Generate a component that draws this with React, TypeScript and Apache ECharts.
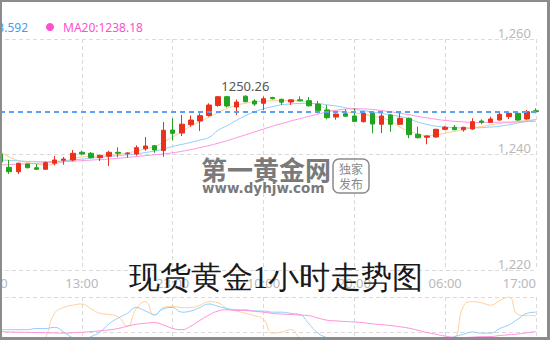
import React, { useEffect, useRef } from 'react';
import * as echarts from 'echarts';

// hourly categories (day prefix keeps them unique; label shows the time only)
const times = [
  '1|03:00','1|04:00','1|05:00','1|06:00','1|07:00','1|08:00','1|09:00','1|10:00','1|11:00','1|12:00',
  '1|13:00','1|14:00','1|15:00','1|16:00','1|17:00','1|18:00','1|19:00','1|20:00','1|21:00','1|22:00',
  '1|23:00','2|00:00','2|01:00','2|02:00','2|03:00','2|04:00','2|06:00','2|07:00','2|08:00','2|09:00',
  '2|10:00','2|11:00','2|12:00','2|13:00','2|14:00','2|15:00','2|16:00','2|17:00','2|18:00','2|19:00',
  '2|20:00','2|21:00','2|22:00','2|23:00','3|00:00','3|01:00','3|02:00','3|03:00','3|04:00','3|05:00',
  '3|06:00','3|07:00','3|08:00','3|09:00','3|10:00','3|11:00','3|12:00','3|13:00','3|15:00','3|16:00',
  '3|17:00',
];

const opens = [
  1240.6, 1240.1, 1237.78, 1237.02, 1238.35, 1237.71, 1237.44, 1238.48, 1239.0, 1239.05,
  1240.38, 1240.21, 1239.45, 1239.69, 1240.38, 1240.14, 1240.09, 1241.0, 1241.52, 1240.69,
  1244.24, 1243.72, 1245.16, 1245.8, 1246.75, 1248.49, 1250.01, 1248.23, 1250.1, 1249.26,
  1248.87, 1249.87, 1249.56, 1249.09, 1249.47, 1249.32, 1248.74, 1247.71, 1246.49, 1247.05,
  1246.67, 1245.68, 1247.13, 1245.23, 1246.84, 1245.23, 1246.27, 1243.5, 1242.98, 1243.03,
  1244.36, 1244.71, 1244.29, 1244.42, 1245.8, 1245.58, 1245.97, 1246.55, 1247.13, 1246.15,
  1247.58,
];
const closes = [
  1240.1, 1238.7, 1237.02, 1238.48, 1237.71, 1237.44, 1238.58, 1239.05, 1239.22, 1240.21,
  1240.09, 1239.45, 1239.86, 1240.38, 1240.21, 1240.26, 1241.18, 1241.47, 1240.78, 1244.19,
  1243.67, 1245.25, 1245.97, 1246.72, 1248.57, 1250.01, 1248.4, 1249.09, 1249.14, 1248.74,
  1249.66, 1249.65, 1249.06, 1249.47, 1249.3, 1248.43, 1247.64, 1246.37, 1247.01, 1246.63,
  1245.73, 1247.13, 1245.28, 1246.67, 1245.23, 1246.27, 1243.43, 1242.91, 1243.2, 1244.36,
  1244.71, 1244.29, 1244.71, 1245.68, 1245.58, 1246.15, 1246.96, 1247.13, 1245.97, 1247.41,
  1247.41,
];
const lows = [
  1239.8, 1238.5, 1236.62, 1236.62, 1237.6, 1237.35, 1237.35, 1238.13, 1238.23, 1238.82,
  1239.86, 1239.35, 1238.87, 1238.01, 1239.52, 1239.45, 1239.79, 1240.66, 1240.31, 1239.62,
  1242.42, 1243.2, 1244.81, 1244.07, 1246.55, 1248.28, 1248.17, 1246.84, 1249.05, 1248.4,
  1247.71, 1249.55, 1248.57, 1248.57, 1249.2, 1248.3, 1247.13, 1246.1, 1246.03, 1246.5,
  1245.6, 1245.55, 1243.67, 1243.72, 1243.95, 1245.1, 1242.81, 1242.77, 1241.77, 1242.9,
  1244.2, 1244.2, 1243.95, 1244.3, 1245.23, 1245.45, 1245.85, 1246.15, 1245.8, 1246.0,
  1247.13,
];
const highs = [
  1240.9, 1240.3, 1239.05, 1238.6, 1238.45, 1238.35, 1238.82, 1239.74, 1239.57, 1240.78,
  1240.66, 1240.43, 1239.95, 1240.66, 1241.25, 1240.35, 1241.59, 1243.03, 1241.65, 1245.63,
  1246.27, 1246.84, 1246.75, 1247.13, 1248.87, 1250.1, 1250.12, 1249.52, 1250.26, 1249.56,
  1250.05, 1250.0, 1249.65, 1249.55, 1250.08, 1249.96, 1249.26, 1248.57, 1247.1, 1247.83,
  1248.0, 1247.25, 1247.25, 1247.13, 1247.0, 1247.13, 1246.4, 1244.81, 1243.3, 1244.45,
  1244.94, 1245.11, 1244.8, 1246.27, 1246.1, 1246.55, 1247.53, 1247.41, 1247.41, 1247.71,
  1248.0,
];

const ma5 = [
  1241.47, 1240.52, 1239.57, 1238.96, 1238.61, 1238.35, 1238.18, 1238.35, 1238.79, 1239.22,
  1239.57, 1239.65, 1239.74, 1239.83, 1240.0, 1240.26, 1240.6, 1240.95, 1241.39, 1242.16,
  1243.03, 1243.98, 1244.93, 1245.71, 1246.49, 1247.27, 1247.97, 1248.48, 1248.87, 1249.09,
  1249.23, 1249.3, 1249.32, 1249.32, 1249.26, 1249.0, 1248.57, 1247.88, 1247.53, 1247.36,
  1247.19, 1247.0, 1246.67, 1246.32, 1245.8, 1244.76, 1244.07, 1243.55, 1243.29, 1243.38,
  1243.72, 1243.98, 1244.33, 1244.59, 1244.85, 1245.11, 1245.37, 1245.54, 1245.71, 1245.89,
  1246.06,
];
const ma10 = [
  1239.2, 1239.05, 1239.0, 1238.9, 1238.8, 1238.75, 1238.75, 1238.8, 1238.9, 1239.05,
  1239.2, 1239.35, 1239.5, 1239.65, 1239.8, 1239.95, 1240.1, 1240.35, 1240.6, 1240.95,
  1241.4, 1241.75, 1242.1, 1242.5, 1242.95, 1244.2, 1245.0, 1245.9, 1246.7, 1247.4,
  1247.9, 1248.3, 1248.6, 1248.75, 1248.85, 1248.85, 1248.8, 1248.6, 1248.4, 1248.1,
  1247.8, 1247.6, 1247.35, 1247.1, 1246.85, 1246.6, 1246.2, 1245.6, 1245.2, 1244.9,
  1244.75, 1244.65, 1244.6, 1244.6, 1244.65, 1244.75, 1244.9, 1245.15, 1245.45, 1245.75,
  1246.05,
];
const ma20 = [
  1238.1, 1238.18, 1238.25, 1238.32, 1238.39, 1238.48, 1238.56, 1238.65, 1238.75, 1238.84,
  1238.93, 1239.03, 1239.13, 1239.22, 1239.35, 1239.5, 1239.65, 1239.8, 1239.95, 1240.1,
  1240.3, 1240.55, 1240.85, 1241.2, 1241.55, 1241.95, 1242.4, 1242.9, 1243.4, 1243.9,
  1244.4, 1244.9, 1245.35, 1245.8, 1246.2, 1246.6, 1247.0, 1247.35, 1247.65, 1247.85,
  1247.95, 1247.9, 1247.8, 1247.6, 1247.4, 1247.15, 1246.9, 1246.6, 1246.35, 1246.1,
  1245.9, 1245.75, 1245.65, 1245.55, 1245.55, 1245.55, 1245.6, 1245.6, 1245.65, 1245.7,
  1245.75,
];

// lower oscillator panel
const osc6 = [
  52, 47, 40, 36, 35, 33, 45, 66, 71, 73,
  74, 70, 66, 65, 63, 55, 70, 76, 64, 71,
  72, 71, 71, 73, 76, 75, 70, 68, 66, 64,
  61, 49, 50, 52, 45, 40, 38, 32, 35, 36,
  30, 38, 44, 42, 40, 43, 30, 28, 30, 38,
  44, 45, 72, 76, 75, 73, 77, 80, 65, 64,
  64,
];
const osc12 = [
  53, 52, 52, 52, 52, 53, 53, 54, 50, 45,
  43, 46, 50, 57, 62, 66, 71, 68, 65, 70,
  71, 67, 68, 71, 74, 72, 70, 69, 69, 68,
  68, 67, 67, 66, 65, 57, 49, 45, 42, 41,
  38, 40, 41, 41, 40, 41, 37, 36, 37, 40,
  43, 46, 48, 50, 49, 49, 53, 56, 61, 66,
  67,
];
const osc24 = [
  50.5, 50.3, 50, 49.8, 49.7, 49.6, 49.4, 49.2, 49, 49.3,
  49.8, 50.3, 51, 51.8, 53, 55, 56.6, 57.5, 58, 56,
  53, 52, 55, 60, 64.5, 68, 69, 68.6, 68.4, 67.8,
  67, 66, 65.4, 65, 64.5, 64, 62, 60.1, 59.5, 59,
  58.6, 58, 57, 56.3, 55.5, 54.5, 53.3, 51.5, 49.5, 48,
  46.5, 45.5, 45.3, 45.6, 46, 46.1, 47, 47.6, 48.3, 49.3,
  50.3,
];

const legendTexts = ['MA10:1243.592', 'MA20:1238.18'];
const titleText = '现货黄金1小时走势图';

const RED = '#e8321e';
const GREEN = '#22a322';
const GRID_LINE = '#dadada';
const AXIS_TEXT = '#b9b9b9';

export default function App() {
  const ref = useRef<HTMLDivElement>(null);

  useEffect(() => {
    if (!ref.current) return;
    const chart = echarts.init(ref.current, undefined, { renderer: 'svg' });
    const kData = opens.map((o, i) => [o, closes[i], lows[i], highs[i]]);
    const lastClose = closes[closes.length - 1];

    const maLine = (name: string, data: number[], color: string, xi: number, yi: number) => ({
      name,
      type: 'line',
      xAxisIndex: xi,
      yAxisIndex: yi,
      data,
      smooth: true,
      symbol: 'none',
      z: 1,
      silent: true,
      lineStyle: { width: 1, color },
      itemStyle: { color },
    });

    const splitDashed = { show: true, interval: 9, lineStyle: { color: GRID_LINE, type: [4, 3], width: 1 } };

    const option: any = {
      animation: false,
      backgroundColor: '#ffffff',
      grid: [
        { left: -9, right: 14, top: 39, height: 231, containLabel: false, outerBoundsMode: 'none' },
        { left: -9, right: 14, top: 297, height: 70, containLabel: false, outerBoundsMode: 'none' },
      ],
      xAxis: [
        {
          type: 'category',
          gridIndex: 0,
          data: times,
          boundaryGap: false,
          axisLine: { show: false },
          axisTick: { show: false },
          axisLabel: {
            interval: 9,
            color: AXIS_TEXT,
            fontSize: 13,
            fontFamily: 'Noto Sans',
            margin: 6,
            alignMaxLabel: 'right',
            formatter: (v: string) => v.split('|')[1],
          },
          splitLine: splitDashed,
        },
        {
          type: 'category',
          gridIndex: 1,
          data: times,
          boundaryGap: false,
          axisLine: { show: false },
          axisTick: { show: false },
          axisLabel: { show: false, interval: 9 },
          splitLine: splitDashed,
        },
      ],
      yAxis: [
        {
          type: 'value',
          gridIndex: 0,
          position: 'right',
          min: 1220,
          max: 1260,
          interval: 20,
          axisLine: { show: false },
          axisTick: { show: false },
          axisLabel: {
            inside: true,
            color: AXIS_TEXT,
            fontSize: 13,
            fontFamily: 'Noto Sans',
            verticalAlign: 'bottom',
            margin: 5,
            formatter: (v: number) => v.toLocaleString('en-US'),
          },
          splitLine: { show: true, lineStyle: { color: GRID_LINE, type: [4, 3], width: 1 } },
        },
        {
          type: 'value',
          gridIndex: 1,
          position: 'right',
          min: 20,
          max: 80,
          interval: 30,
          axisLine: { show: false },
          axisTick: { show: false },
          axisLabel: { show: false },
          splitLine: { show: true, lineStyle: { color: GRID_LINE, type: [4, 3], width: 1 } },
        },
      ],
      series: [
        {
          name: 'K',
          type: 'candlestick',
          xAxisIndex: 0,
          yAxisIndex: 0,
          data: kData,
          barWidth: 5,
          z: 3,
          itemStyle: {
            color: RED,
            color0: GREEN,
            borderColor: RED,
            borderColor0: GREEN,
            borderWidth: 1,
          },
          markLine: {
            silent: true,
            symbol: ['none', 'none'],
            label: { show: false },
            lineStyle: { color: '#5b9ff0', type: [5, 4], width: 2 },
            data: [{ yAxis: lastClose }],
          },
          markPoint: {
            silent: true,
            symbol: 'circle',
            symbolSize: 1,
            itemStyle: { color: 'rgba(0,0,0,0)' },
            label: {
              show: true,
              position: 'top',
              distance: 2,
              color: '#555555',
              fontSize: 13,
              fontFamily: 'Noto Sans',
              formatter: (p: any) => String(p.value),
            },
            data: [{ type: 'max', valueDim: 'highest' }],
          },
        },
        maLine('MA5', ma5, '#ffc98e', 0, 0),
        maLine('MA10', ma10, '#8fcdfa', 0, 0),
        maLine('MA20', ma20, '#ff92e0', 0, 0),
        maLine('R6', osc6, '#ffcf9c', 1, 1),
        maLine('R12', osc12, '#8fcdfa', 1, 1),
        maLine('R24', osc24, '#ff8fdc', 1, 1),
      ],
      graphic: [
        {
          type: 'text',
          z: 50,
          x: 28,
          y: 27,
          style: {
            text: legendTexts[0],
            fill: '#3d9ff2',
            font: '12px "Noto Sans"',
            align: 'right',
            textAlign: 'right',
            verticalAlign: 'middle',
            textVerticalAlign: 'middle',
          },
        },
        { type: 'circle', z: 50, shape: { cx: 50, cy: 27, r: 4 }, style: { fill: '#ff4fcf' } },
        {
          type: 'text',
          z: 50,
          x: 63,
          y: 27,
          style: {
            text: legendTexts[1],
            fill: '#ff4fcf',
            font: '12px "Noto Sans"',
            align: 'left',
            textAlign: 'left',
            verticalAlign: 'middle',
            textVerticalAlign: 'middle',
          },
        },
        // watermark
        {
          type: 'text',
          z: 40,
          x: 201,
          y: 168,
          style: {
            text: '第一黄金网',
            fill: '#7a7a7a',
            font: 'bold 26px "Noto Sans CJK SC"',
            align: 'left',
            textAlign: 'left',
            verticalAlign: 'middle',
            textVerticalAlign: 'middle',
          },
        },
        {
          type: 'text',
          z: 40,
          x: 202,
          y: 188,
          style: {
            text: 'www.dyhjw.com',
            fill: '#7a7a7a',
            font: 'bold 13.5px "DejaVu Sans"',
            align: 'left',
            textAlign: 'left',
            verticalAlign: 'middle',
            textVerticalAlign: 'middle',
          },
        },
        {
          type: 'rect',
          z: 40,
          shape: { x: 333, y: 159, width: 36, height: 34, r: 6 },
          style: { fill: 'none', stroke: '#8a8a8a', lineWidth: 1.5 },
        },
        {
          type: 'text',
          z: 40,
          x: 351,
          y: 168,
          style: {
            text: '独家',
            fill: '#8a8a8a',
            font: '12px "Noto Sans CJK SC"',
            align: 'center',
            textAlign: 'center',
            verticalAlign: 'middle',
            textVerticalAlign: 'middle',
          },
        },
        {
          type: 'text',
          z: 40,
          x: 351,
          y: 183,
          style: {
            text: '发布',
            fill: '#8a8a8a',
            font: '12px "Noto Sans CJK SC"',
            align: 'center',
            textAlign: 'center',
            verticalAlign: 'middle',
            textVerticalAlign: 'middle',
          },
        },
        // title
        {
          type: 'text',
          z: 60,
          x: 276,
          y: 277,
          style: {
            text: titleText,
            fill: '#1a1a1a',
            font: '300 31px serif',
            align: 'center',
            textAlign: 'center',
            verticalAlign: 'middle',
            textVerticalAlign: 'middle',
          },
        },
        // frame
        { type: 'rect', z: 100, shape: { x: 0, y: 0, width: 550, height: 2 }, style: { fill: '#8c8c8c' } },
        { type: 'rect', z: 100, shape: { x: 0, y: 0, width: 2, height: 340 }, style: { fill: '#8c8c8c' } },
        { type: 'rect', z: 100, shape: { x: 547, y: 0, width: 3, height: 340 }, style: { fill: '#8c8c8c' } },
        { type: 'rect', z: 100, shape: { x: 0, y: 337, width: 550, height: 3 }, style: { fill: '#8c8c8c' } },
      ],
    };

    chart.setOption(option);
    return () => chart.dispose();
  }, []);

  return (
    <div
      ref={ref}
      style={{ position: 'fixed', left: 0, top: 0, width: 550, height: 340, background: '#fff' }}
    />
  );
}
